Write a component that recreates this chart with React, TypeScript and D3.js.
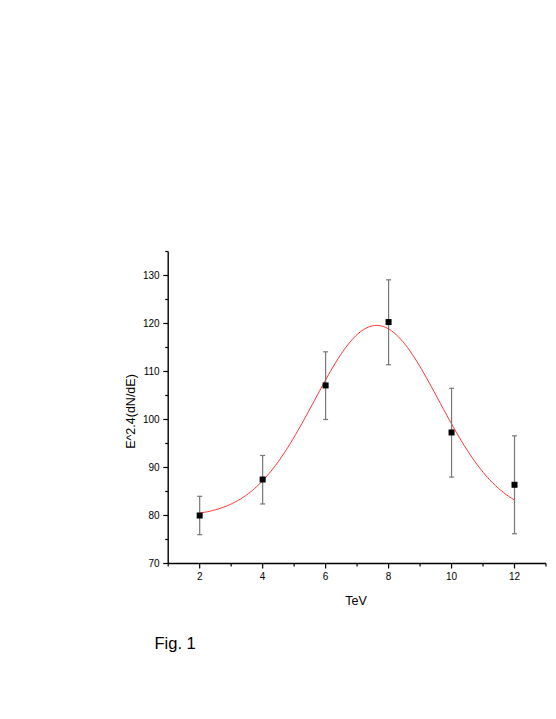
import React from "react";
import * as d3 from "d3";

const energies = [2, 4, 6, 8, 10, 12];
const fluxValues = [80, 87.5, 107.1, 120.3, 97.3, 86.4];
const errLow = [76, 82.4, 100, 111.4, 88, 76.2];
const errHigh = [84, 92.5, 114.1, 129.1, 106.5, 96.6];
const xMajorTicks = [2, 4, 6, 8, 10, 12];
const xMinorTicks = [1, 3, 5, 7, 9, 11, 13];
const yMajorTicks = [70, 80, 90, 100, 110, 120, 130];
const yMinorTicks = [75, 85, 95, 105, 115, 125, 135];
// Gaussian fit: y0, height, center, sigma
const fitParams = [79.8, 39.8, 7.62, 1.977];

const W = 556;
const H = 719;

export default function App() {
  const x = d3.scaleLinear().domain([1, 13]).range([168.2, 546]);
  const y = d3.scaleLinear().domain([70, 135]).range([563.5, 251.5]);
  const [y0, hgt, xc, s] = fitParams;
  const fit = (v: number) => y0 + hgt * Math.exp(-((v - xc) ** 2) / (2 * s * s));
  const curvePts = d3.range(2, 12.0001, 0.05).map((v) => [v, fit(v)] as [number, number]);
  const line = d3
    .line<[number, number]>()
    .x((d) => x(d[0]))
    .y((d) => y(d[1]))
    .curve(d3.curveLinear);
  const font = "Liberation Sans, Arial, sans-serif";
  const x0 = x(1);
  const yb = y(70);
  return (
    <svg
      width={W}
      height={H}
      style={{ position: "absolute", left: 0, top: 0, background: "#fff" }}
      fontFamily={font}
    >
      <rect width={W} height={H} fill="#fff" />
      {/* axes */}
      <line x1={x0} x2={x0} y1={y(135)} y2={yb} stroke="#000" strokeWidth={1.4} />
      <line x1={x0} x2={x(13)} y1={yb} y2={yb} stroke="#000" strokeWidth={1.4} />
      {yMajorTicks.map((t) => (
        <g key={"ym" + t}>
          <line x1={x0 - 5} x2={x0} y1={y(t)} y2={y(t)} stroke="#000" strokeWidth={1.2} />
          <text x={x0 - 8.5} y={y(t)} dy="0.36em" textAnchor="end" fontSize={10} fill="#000">
            {t}
          </text>
        </g>
      ))}
      {yMinorTicks.map((t) => (
        <line key={"yn" + t} x1={x0 - 3} x2={x0} y1={y(t)} y2={y(t)} stroke="#000" strokeWidth={1.2} />
      ))}
      {xMajorTicks.map((t) => (
        <g key={"xm" + t}>
          <line x1={x(t)} x2={x(t)} y1={yb} y2={yb + 5} stroke="#000" strokeWidth={1.2} />
          <text x={x(t)} y={580} textAnchor="middle" fontSize={10} fill="#000">
            {t}
          </text>
        </g>
      ))}
      {xMinorTicks.map((t) => (
        <line key={"xn" + t} x1={x(t)} x2={x(t)} y1={yb} y2={yb + 3} stroke="#000" strokeWidth={1.2} />
      ))}
      {/* axis titles */}
      <text x={356} y={604.5} textAnchor="middle" fontSize={12.5} fill="#000">
        TeV
      </text>
      <text
        transform={`translate(134.5,411.5) rotate(-90)`}
        textAnchor="middle"
        fontSize={12.5}
        fill="#000"
      >
        E^2.4(dN/dE)
      </text>
      {/* fit curve */}
      <path d={line(curvePts) || ""} fill="none" stroke="#ff3333" strokeWidth={1} />
      {/* error bars */}
      {energies.map((e, i) => (
        <g key={"eb" + e} stroke="#777" strokeWidth={1.2}>
          <line x1={x(e)} x2={x(e)} y1={y(errLow[i])} y2={y(errHigh[i])} />
          <line x1={x(e) - 2.5} x2={x(e) + 2.5} y1={y(errLow[i])} y2={y(errLow[i])} />
          <line x1={x(e) - 2.5} x2={x(e) + 2.5} y1={y(errHigh[i])} y2={y(errHigh[i])} />
        </g>
      ))}
      {/* markers */}
      {energies.map((e, i) => (
        <rect key={"m" + e} x={x(e) - 3} y={y(fluxValues[i]) - 3} width={6} height={6} fill="#000" />
      ))}
      <text x={154.5} y={649} fontSize={16.5} fill="#000">
        Fig. 1
      </text>
    </svg>
  );
}
